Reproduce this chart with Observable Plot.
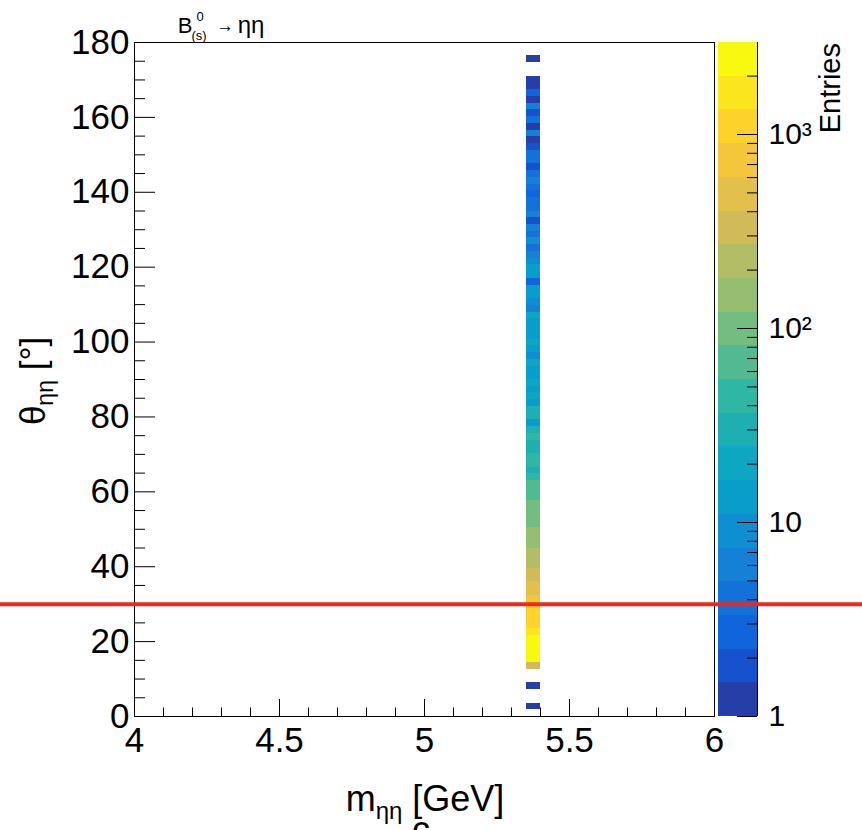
<!DOCTYPE html>
<html><head><meta charset="utf-8">
<script src="https://cdn.jsdelivr.net/npm/d3@7"></script>
<script src="https://cdn.jsdelivr.net/npm/@observablehq/plot@0.6"></script>
<style>
body{margin:0;background:#fff;}
#wrap{position:relative;width:862px;height:830px;overflow:hidden;font-family:"Liberation Sans",Arial,Helvetica,sans-serif;}
#wrap svg{position:absolute;top:0;}
</style></head><body><div id="wrap"></div>
<script>
// ---------------- data ----------------
const massBinLow = 5.35, massBinHigh = 5.40;          // GeV, the single filled mass bin
const thetaRange = [0, 180];                           // degrees, 100 bins
const entriesPerThetaBin = [
  0, 1, 0, 0, 1, 0, 0, 310, 2250, 2980,
  2700, 2400, 1700, 1250, 1100, 950, 820, 680, 560, 450,
  370, 300, 250, 220, 190, 170, 150, 130, 115, 105,
  95, 88, 78, 70, 60, 48, 34, 45, 40, 32,
  30, 40, 28, 15, 30, 27, 14, 20, 15, 19,
  14, 13, 18, 10, 13, 18, 14, 13, 12, 17,
  6, 9, 13, 12, 3, 13, 12, 9, 7, 4,
  9, 4, 6, 2, 6, 4, 4, 3, 4, 6,
  4, 2, 4, 4, 2, 1, 5, 1, 4, 2,
  6, 1, 3, 1, 1, 0, 0, 1, 0, 0
];
const xTickValues = [4, 4.5, 5, 5.5, 6];
const yTickValues = [0, 20, 40, 60, 80, 100, 120, 140, 160, 180];
const zTickValues = [1, 10, 100, 1000];
const zTickLabels = ["1", "10", "10\u00B2", "10\u00B3"];
const cutTheta = 30;

// ROOT kBird palette definition
const birdStops = [0.0000, 0.1250, 0.2500, 0.3750, 0.5000, 0.6250, 0.7500, 0.8750, 1.0000];
const birdRed   = [0.2082, 0.0592, 0.0780, 0.0232, 0.1802, 0.5301, 0.8186, 0.9956, 0.9764];
const birdGreen = [0.1664, 0.3599, 0.5041, 0.6419, 0.7178, 0.7492, 0.7328, 0.7862, 0.9832];
const birdBlue  = [0.5293, 0.8684, 0.8385, 0.7914, 0.6425, 0.4662, 0.3499, 0.1968, 0.0539];

// ---------------- derived ----------------
const NCOL = 255, NLEV = 20;
const palette = [];
for (let g = 1; g < birdStops.length; g++) {
  const n = Math.floor(NCOL * birdStops[g]) - Math.floor(NCOL * birdStops[g - 1]);
  for (let c = 0; c < n; c++) {
    const f = c / n;
    const r = birdRed[g-1] + f * (birdRed[g] - birdRed[g-1]);
    const gg = birdGreen[g-1] + f * (birdGreen[g] - birdGreen[g-1]);
    const b = birdBlue[g-1] + f * (birdBlue[g] - birdBlue[g-1]);
    palette.push(d3.rgb(r * 255, gg * 255, b * 255).formatHex());
  }
}
while (palette.length < NCOL) palette.push(palette[palette.length - 1]);
const levelColors = d3.range(NLEV).map(i => palette[Math.min(NCOL - 1, Math.floor((i + 0.99) * NCOL / NLEV))]);

const zMin = 1, zMax = d3.max(entriesPerThetaBin);
const dz = (Math.log10(zMax) - Math.log10(zMin)) / NLEV;
const thresholds = d3.range(1, NLEV).map(i => zMin * 10 ** (i * dz));
const colorScale = {type: "threshold", domain: thresholds, range: levelColors};

const nb = entriesPerThetaBin.length;
const binW = (thetaRange[1] - thetaRange[0]) / nb;
const cells = entriesPerThetaBin
  .map((v, k) => ({m1: massBinLow, m2: massBinHigh, t1: thetaRange[0] + k * binW, t2: thetaRange[0] + (k + 1) * binW, v}))
  .filter(d => d.v > 0);

const levels = d3.range(NLEV).map(i => ({lo: zMin * 10 ** (i * dz), hi: zMin * 10 ** ((i + 1) * dz), mid: zMin * 10 ** ((i + 0.5) * dz)}));
const zMinor = [];
for (const d of zTickValues) for (let m = 2; m <= 9; m++) if (d * m <= zMax) zMinor.push(d * m);

const xMinor = d3.range(40, 61, 1).map(v => v / 10).filter(v => !xTickValues.includes(v));
const yMinor = d3.range(0, 181, 5).filter(v => !yTickValues.includes(v));

// ---------------- layout ----------------
const W = 862, H = 830, mL = 134, mR = 148, mT = 42, mB = 114;
const fw = W - mL - mR, fh = H - mT - mB;
const FONT = '"Liberation Sans", Arial, Helvetica, sans-serif';

// ---------------- colour bar ----------------
const cbW = 148, cbL = 4, cbBar = 39;
const colorbar = Plot.plot({
  width: cbW, height: H,
  marginLeft: cbL, marginRight: cbW - cbL - cbBar, marginTop: mT, marginBottom: mB,
  style: {fontFamily: FONT, fontSize: "30px", background: "transparent", color: "black"},
  x: {domain: [0, 1], axis: null},
  y: {type: "log", domain: [zMin, zMax], axis: "right", ticks: zTickValues,
      tickFormat: d => zTickLabels[zTickValues.indexOf(d)] ?? "", tickSize: 0, tickPadding: 11, label: null},
  color: colorScale,
  marks: [
    Plot.rect(levels, {x1: 0, x2: 1, y1: "lo", y2: "hi", fill: "mid", shapeRendering: "crispEdges"}),
    Plot.ruleX([1], {stroke: "black", strokeWidth: 1}),
    Plot.tickY(zTickValues, {y: d => d, stroke: "black", insetLeft: cbBar - 20}),
    Plot.tickY(zMinor, {y: d => d, stroke: "black", insetLeft: cbBar - 10})
  ]
});
colorbar.style.left = (W - cbW) + "px";
d3.select(colorbar).append("text")
  .attr("transform", `translate(${840 - (W - cbW)},43) rotate(-90)`)
  .attr("text-anchor", "end").attr("font-size", 29).attr("fill", "black")
  .text("Entries");

// ---------------- main plot ----------------
const main = Plot.plot({
  width: W, height: H,
  marginLeft: mL, marginRight: mR, marginTop: mT, marginBottom: mB,
  style: {fontFamily: FONT, fontSize: "35px", background: "transparent", color: "black", overflow: "hidden"},
  x: {domain: [4, 6], ticks: xTickValues, tickFormat: d => String(d), tickSize: 0, tickPadding: 11, label: null},
  y: {domain: thetaRange, ticks: yTickValues, tickSize: 0, tickPadding: 5, label: null},
  color: colorScale,
  marks: [
    Plot.rect(cells, {x1: "m1", x2: "m2", y1: "t1", y2: "t2", fill: "v", shapeRendering: "crispEdges"}),
    Plot.frame({stroke: "black", strokeWidth: 1}),
    Plot.tickY(yTickValues, {y: d => d, stroke: "black", insetRight: fw - 21}),
    Plot.tickY(yMinor, {y: d => d, stroke: "black", insetRight: fw - 11}),
    Plot.tickX(xTickValues, {x: d => d, stroke: "black", insetTop: fh - 17}),
    Plot.tickX(xMinor, {x: d => d, stroke: "black", insetTop: fh - 8.5}),
    Plot.ruleY([cutTheta], {stroke: "#ec2a1c", strokeWidth: 4, insetLeft: -mL, insetRight: -mR})
  ]
});
main.style.left = "0px";
const sv = d3.select(main);

// title  B^0_(s) -> eta eta
const tg = sv.append("g").attr("fill", "black");
tg.append("text").attr("x", 185).attr("y", 33).attr("font-size", 22).text("B");
tg.append("text").attr("x", 200).attr("y", 21).attr("font-size", 13).text("0");
tg.append("text").attr("x", 199).attr("y", 40).attr("font-size", 13).text("(s)");
tg.append("text").attr("x", 225).attr("y", 32).attr("font-size", 20)
  .attr("textLength", 17).attr("lengthAdjust", "spacingAndGlyphs").text("\u2192");
tg.append("text").attr("x", 251).attr("y", 33).attr("font-size", 24).text("\u03B7\u03B7");

// x title
const xt = sv.append("text").attr("x", 425).attr("y", 811).attr("text-anchor", "middle").attr("font-size", 36).attr("fill", "black");
xt.append("tspan").text("m");
xt.append("tspan").attr("font-size", 24).attr("dy", 8).text("\u03B7\u03B7");
xt.append("tspan").attr("dy", -8).text(" [GeV]");
sv.append("text").attr("x", 421).attr("y", 842).attr("text-anchor", "middle").attr("font-size", 36).attr("fill", "black").text("c");

// y title
const yt = sv.append("text").attr("transform", "translate(45,381) rotate(-90)").attr("text-anchor", "middle").attr("font-size", 35).attr("fill", "black");
yt.append("tspan").text("\u03B8");
yt.append("tspan").attr("font-size", 23).attr("dy", 8).text("\u03B7\u03B7");
yt.append("tspan").attr("dy", -8).text(" [\u00B0]");

const wrap = document.getElementById("wrap");
wrap.appendChild(colorbar);
wrap.appendChild(main);
</script>
</body></html>
